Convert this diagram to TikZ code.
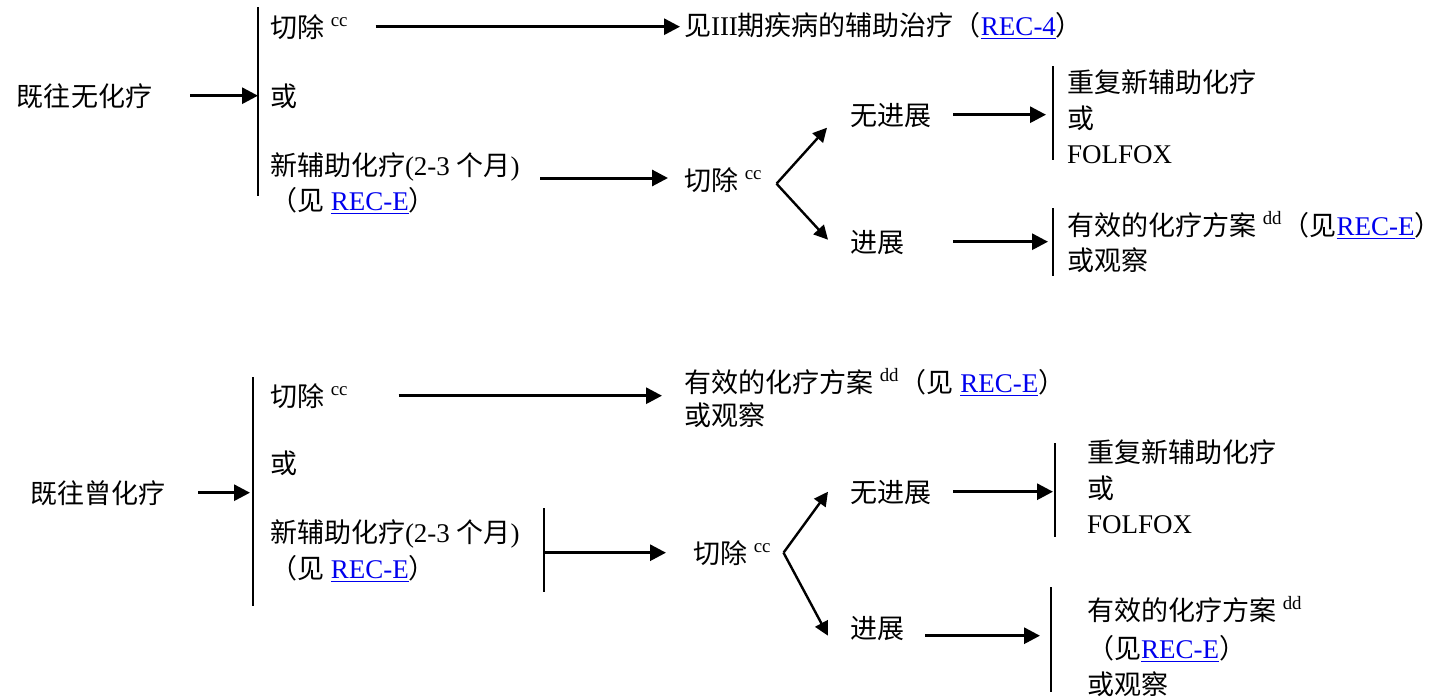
\documentclass[tikz,border=0pt]{standalone}
\usepackage{fontspec}
\setmainfont{Liberation Serif}
\newfontfamily\cjk{Noto Sans CJK SC}
\usetikzlibrary{arrows.meta}
\definecolor{linkblue}{RGB}{0,0,238}
\newcommand\zh[1]{{\cjk #1}}
\newcommand\lnk[1]{\textcolor{linkblue}{\underline{#1}}}
\newcommand\sups[1]{\textsuperscript{#1}}
\begin{document}
\begin{tikzpicture}[x=0.5pt,y=-0.5pt,
  txt/.style={anchor=base west, inner sep=0pt, outer sep=0pt,
    font=\fontsize{13.5pt}{17pt}\selectfont, text height=11.9pt, text depth=1.6pt},
  arr/.style={line width=1.5pt, -{Triangle[length=8pt,width=8pt]}},
  diag/.style={line width=1.2pt, -{Triangle[length=7pt,width=7pt]}},
  bar/.style={line width=0.9pt}]
\path[fill=white, use as bounding box] (0,0) rectangle (1443,696);

% ---------- top section ----------
\node[txt] (t0) at (17,106) {\zh{既往无化疗}};
\coordinate (b1t) at (258,7); \coordinate (b1b) at (258,196);
\node[txt] (t1) at (270,37) {\zh{切除} \sups{cc}};
\node[txt] (t2) at (684,35) {\zh{见}III\zh{期疾病的辅助治疗（}\lnk{REC-4}\zh{）}};
\node[txt] (t3) at (270,106) {\zh{或}};
\node[txt] (t4) at (270,175) {\zh{新辅助化疗}(2-3 \zh{个月})};
\node[txt] (t4b) at (270,210) {\zh{（见} \lnk{REC-E}\zh{）}};
\node[txt] (t5) at (684,190) {\zh{切除} \sups{cc}};
\node[txt] (t6) at (850,125) {\zh{无进展}};
\node[txt] (t7) at (850,252) {\zh{进展}};
\coordinate (b2t) at (1053,66); \coordinate (b2b) at (1053,160);
\node[txt] (t8) at (1067,92) {\zh{重复新辅助化疗}};
\node[txt] (t9) at (1067,128) {\zh{或}};
\node[txt] (t10) at (1067,163) {FOLFOX};
\coordinate (b3t) at (1053,208); \coordinate (b3b) at (1053,276);
\node[txt] (t11) at (1067,235) {\zh{有效的化疗方案} \sups{dd}\zh{（见}\lnk{REC-E}\zh{）}};
\node[txt] (t12) at (1067,270) {\zh{或观察}};
\coordinate (a3s) at (540,178);

\draw[bar] (b1t) -- (b1b);
\draw[bar] (b2t) -- (b2b);
\draw[bar] (b3t) -- (b3b);
\draw[arr] ([xshift=19pt]t0.east) -- (t0.east -| b1t);
\draw[arr] ([xshift=13.5pt]t1.east) -- ([xshift=-2pt]t2.west |- t1.east);
\draw[arr] (a3s) -- ([xshift=-8pt]t5.west |- a3s);
\draw[diag] ([shift={(7pt,-2pt)}]t5.east) -- ([shift={(-11.5pt,-6.5pt)}]t6.west);
\draw[diag] ([shift={(7pt,-2pt)}]t5.east) -- ([shift={(-11pt,1pt)}]t7.west);
\draw[arr] ([xshift=11pt]t6.east) -- ([xshift=-3.5pt]t6.east -| b2t);
\draw[arr] ([xshift=24.5pt]t7.east) -- ([xshift=-2.5pt]t7.east -| b3t);

% ---------- bottom section ----------
\node[txt] (s0) at (30,503) {\zh{既往曾化疗}};
\coordinate (b4t) at (253,377); \coordinate (b4b) at (253,606);
\node[txt] (s1) at (270,406) {\zh{切除} \sups{cc}};
\node[txt] (s2) at (684,392) {\zh{有效的化疗方案} \sups{dd}\zh{（见} \lnk{REC-E}\zh{）}};
\node[txt] (s3) at (684,425) {\zh{或观察}};
\node[txt] (s4) at (270,473) {\zh{或}};
\node[txt] (s5) at (270,542) {\zh{新辅助化疗}(2-3 \zh{个月})};
\node[txt] (s6) at (270,578) {\zh{（见} \lnk{REC-E}\zh{）}};
\coordinate (b5t) at (544,508); \coordinate (b5b) at (544,592);
\node[txt] (s7) at (693,563) {\zh{切除} \sups{cc}};
\node[txt] (s8) at (850,502) {\zh{无进展}};
\node[txt] (s9) at (850,638) {\zh{进展}};
\coordinate (b6t) at (1055,443); \coordinate (b6b) at (1055,537);
\coordinate (b7t) at (1051,587); \coordinate (b7b) at (1051,692);
\node[txt] (s10) at (1087,462) {\zh{重复新辅助化疗}};
\node[txt] (s11) at (1087,498) {\zh{或}};
\node[txt] (s12) at (1087,533) {FOLFOX};
\node[txt] (s13) at (1087,620) {\zh{有效的化疗方案} \sups{dd}};
\node[txt] (s14) at (1087,658) {\zh{（见}\lnk{REC-E}\zh{）}};
\node[txt] (s15) at (1087,694) {\zh{或观察}};

\draw[bar] (b4t) -- (b4b);
\draw[bar] (b5t) -- (b5b);
\draw[bar] (b6t) -- (b6b);
\draw[bar] (b7t) -- (b7b);
\draw[arr] ([xshift=16.5pt]s0.east) -- ([xshift=-1.5pt]s0.east -| b4t);
\draw[arr] ([xshift=25pt]s1.east) -- ([xshift=-11pt]s2.west |- s1.east);
\draw[arr] (b5t |- s7.west) -- ([xshift=-13.5pt]s7.west);
\draw[diag] ([xshift=6pt]s7.east) -- ([xshift=-11pt]s8.west);
\draw[diag] ([xshift=6pt]s7.east) -- ([shift={(-11pt,-4pt)}]s9.west);
\draw[arr] ([xshift=11pt]s8.east) -- ([xshift=-1pt]s8.east -| b6t);
\draw[arr] ([shift={(10.5pt,-4pt)}]s9.east) -- ([shift={(-5.5pt,-4pt)}]s9.east -| b7t);
\end{tikzpicture}
\end{document}
